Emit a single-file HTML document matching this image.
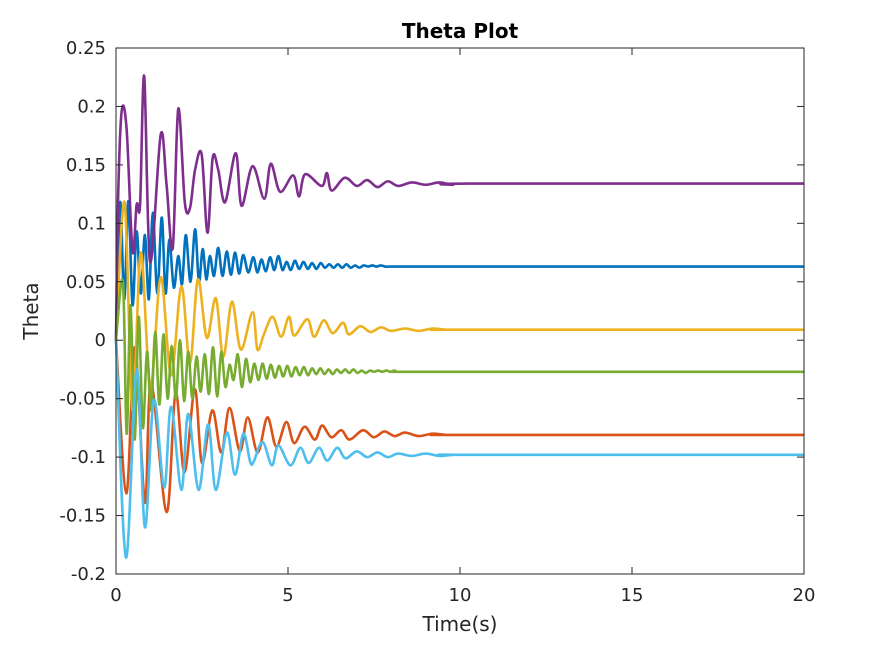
<!DOCTYPE html>
<html><head><meta charset="utf-8"><style>
html,body{margin:0;padding:0;background:#fff;}
svg text{font-family:"DejaVu Sans","Liberation Sans",sans-serif;fill:#262626;}
</style></head><body>
<svg id="chart" width="889" height="645" viewBox="0 0 889 645" xmlns="http://www.w3.org/2000/svg">
<rect x="0" y="0" width="889" height="645" fill="#fff"/>
<g id="series"></g>
<rect x="116" y="48" width="688" height="526" fill="none" stroke="#262626" stroke-width="1"/>
<g id="ticks"></g>
<text x="460" y="38" text-anchor="middle" font-size="20" font-weight="bold" style="fill:#000">Theta Plot</text>
<text x="460" y="631" text-anchor="middle" font-size="20">Time(s)</text>
<text transform="translate(38,311) rotate(-90)" text-anchor="middle" font-size="20">Theta</text>
</svg>
<script>
const xTicks=[0,5,10,15,20];
const yTicks=[-0.2,-0.15,-0.1,-0.05,0,0.05,0.1,0.15,0.2,0.25];
const yTickLabels=["-0.2","-0.15","-0.1","-0.05","0","0.05","0.1","0.15","0.2","0.25"];

// purple
const purpleT=[0,0.06,0.165,0.31,0.48,0.6,0.7,0.82,0.99,1.3,1.47,1.65,1.81,2.0,2.15,2.3,2.49,2.66,2.81,2.97,3.17,3.48,3.65,3.97,4.31,4.5,4.77,5.15,5.32,5.5,5.98,6.13,6.27,6.65,7.0,7.3,7.6,7.9,8.2,8.6,9.0,9.4,9.8,10.3,20];
const purpleV=[0,0.12,0.196,0.18,0.076,0.116,0.116,0.226,0.067,0.176,0.133,0.079,0.198,0.118,0.113,0.146,0.159,0.092,0.156,0.146,0.118,0.16,0.115,0.149,0.121,0.151,0.127,0.141,0.123,0.142,0.132,0.143,0.128,0.139,0.132,0.137,0.131,0.136,0.132,0.135,0.133,0.135,0.133,0.134,0.134];
// red
const redT=[0,0.3,0.55,0.84,1.02,1.47,1.73,1.99,2.29,2.5,2.8,3.06,3.3,3.6,3.83,4.12,4.4,4.66,4.95,5.18,5.48,5.78,5.99,6.26,6.55,6.79,7.18,7.5,7.8,8.1,8.4,8.8,9.2,9.6,10.0,20];
const redV=[0,-0.131,-0.006,-0.139,-0.036,-0.147,-0.045,-0.113,-0.042,-0.105,-0.06,-0.096,-0.058,-0.095,-0.066,-0.096,-0.066,-0.091,-0.07,-0.088,-0.074,-0.085,-0.073,-0.083,-0.077,-0.085,-0.077,-0.083,-0.078,-0.082,-0.079,-0.082,-0.08,-0.081,-0.081,-0.081];
// yellow
const yellowT=[0,0.25,0.48,0.72,1.0,1.3,1.6,1.9,2.15,2.38,2.64,2.9,3.12,3.37,3.63,3.97,4.11,4.3,4.55,4.8,5.03,5.18,5.56,5.76,6.04,6.3,6.6,6.77,7.1,7.4,7.7,8.0,8.4,8.8,9.2,9.6,10.0,20];
const yellowV=[0,0.118,-0.06,0.075,-0.04,0.054,-0.03,0.046,-0.02,0.052,0.002,0.036,-0.014,0.033,-0.008,0.024,-0.008,0.005,0.02,0.003,0.02,0.004,0.018,0.003,0.017,0.006,0.015,0.005,0.012,0.007,0.011,0.008,0.010,0.008,0.010,0.009,0.009,0.009];
// cyan
const cyanT=[0,0.29,0.6,0.84,1.1,1.4,1.6,1.9,2.1,2.4,2.68,2.9,3.22,3.46,3.7,3.9,4.0,4.26,4.53,4.72,5.07,5.36,5.6,5.9,6.14,6.43,6.67,7.0,7.3,7.6,7.9,8.2,8.6,9.0,9.4,9.8,10.2,20];
const cyanV=[0,-0.186,-0.025,-0.16,-0.051,-0.126,-0.057,-0.128,-0.063,-0.128,-0.072,-0.128,-0.079,-0.115,-0.08,-0.104,-0.104,-0.087,-0.107,-0.09,-0.107,-0.092,-0.105,-0.092,-0.103,-0.092,-0.101,-0.095,-0.1,-0.096,-0.1,-0.097,-0.099,-0.097,-0.099,-0.098,-0.098,-0.098];
// blue (peak times, peak values, following trough values)
const blueT=[0.12,0.36,0.6,0.84,1.07,1.33,1.55,1.81,2.03,2.3,2.52,2.73,2.97,3.22,3.46,3.7,3.99,4.23,4.48,4.72,4.96,5.2,5.45,5.7,5.95,6.2,6.45,6.7,6.95,7.2,7.45,7.7,7.95,8.2];
const blueHi=[0.118,0.119,0.093,0.09,0.109,0.105,0.086,0.072,0.09,0.095,0.078,0.072,0.079,0.076,0.075,0.073,0.071,0.069,0.071,0.072,0.067,0.068,0.067,0.066,0.066,0.065,0.065,0.065,0.064,0.064,0.064,0.064,0.063,0.063];
const blueLo=[0.035,0.03,0.04,0.035,0.04,0.04,0.045,0.048,0.05,0.05,0.052,0.055,0.055,0.056,0.057,0.058,0.058,0.059,0.06,0.06,0.06,0.061,0.061,0.061,0.062,0.062,0.062,0.062,0.062,0.063,0.063,0.063,0.063,0.063];
// green
const greenT=[0.2,0.42,0.66,0.9,1.14,1.38,1.62,1.86,2.1,2.34,2.58,2.82,3.06,3.3,3.54,3.78,4.02,4.26,4.5,4.74,4.98,5.22,5.46,5.7,5.94,6.18,6.42,6.66,6.9,7.14,7.38,7.62,7.86,8.1];
const greenHi=[0.05,0.03,0.02,-0.01,0.007,0.005,-0.005,0.0,-0.01,-0.014,-0.012,-0.006,-0.01,-0.021,-0.012,-0.016,-0.02,-0.02,-0.021,-0.022,-0.022,-0.023,-0.023,-0.024,-0.024,-0.025,-0.025,-0.025,-0.025,-0.026,-0.026,-0.026,-0.026,-0.026];
const greenLo=[-0.08,-0.085,-0.075,-0.06,-0.055,-0.05,-0.05,-0.052,-0.05,-0.044,-0.046,-0.048,-0.04,-0.034,-0.04,-0.036,-0.034,-0.033,-0.032,-0.031,-0.031,-0.03,-0.03,-0.029,-0.029,-0.029,-0.028,-0.028,-0.028,-0.028,-0.027,-0.027,-0.027,-0.027];

const X0=116,X1=804,Y0=574,Y1=48;
function xs(t){return X0+(t-0)/(20-0)*(X1-X0);}
function ys(v){return Y0-(v-(-0.2))/(0.25-(-0.2))*(Y0-Y1);}

function osc(T,hi,lo,endV){
  const pts=[[0,0]];
  for(let i=0;i<T.length;i++){
    pts.push([T[i],hi[i]]);
    const nt=i+1<T.length?(T[i]+T[i+1])/2:T[i]+0.12;
    pts.push([nt,lo[i]]);
  }
  pts.push([T[T.length-1]+1,endV]);pts.push([20,endV]);
  return pts;
}
function zip(T,V){return T.map((t,i)=>[t,V[i]]);}
function pathFrom(pts){
  const p=pts.map(d=>[xs(d[0]),ys(d[1])]);
  let s="M"+p[0][0].toFixed(2)+","+p[0][1].toFixed(2);
  for(let i=0;i<p.length-1;i++){
    const a=p[Math.max(0,i-1)],b=p[i],c=p[i+1],d=p[Math.min(p.length-1,i+2)];
    const c1=[b[0]+(c[0]-a[0])/6,b[1]+(c[1]-a[1])/6];
    const c2=[c[0]-(d[0]-b[0])/6,c[1]-(d[1]-b[1])/6];
    s+="C"+c1[0].toFixed(2)+","+c1[1].toFixed(2)+" "+c2[0].toFixed(2)+","+c2[1].toFixed(2)+" "+c[0].toFixed(2)+","+c[1].toFixed(2);
  }
  return s;
}
const NS="http://www.w3.org/2000/svg";
const g=document.getElementById("series");
const seriesList=[
  ["series-blue","#0072BD",osc(blueT,blueHi,blueLo,0.063)],
  ["series-red","#D95319",zip(redT,redV)],
  ["series-yellow","#EDB120",zip(yellowT,yellowV)],
  ["series-purple","#7E2F8E",zip(purpleT,purpleV)],
  ["series-green","#77AC30",osc(greenT,greenHi,greenLo,-0.027)],
  ["series-cyan","#4DBEEE",zip(cyanT,cyanV)]
];
for(const s of seriesList){
  const el=document.createElementNS(NS,"path");
  el.setAttribute("d",pathFrom(s[2]));
  el.setAttribute("fill","none");el.setAttribute("stroke",s[1]);
  el.setAttribute("stroke-width","2.6");el.setAttribute("stroke-linejoin","round");
  
  
  g.appendChild(el);
}
const tk=document.getElementById("ticks");
for(const t of xTicks){
  const x=xs(t);
  for(const [y1,y2] of [[Y0,Y0-7],[Y1,Y1+7]]){
    const l=document.createElementNS(NS,"line");
    l.setAttribute("x1",x);l.setAttribute("x2",x);l.setAttribute("y1",y1);l.setAttribute("y2",y2);
    l.setAttribute("stroke","#262626");
    
    
    tk.appendChild(l);
  }
  const tx=document.createElementNS(NS,"text");
  tx.setAttribute("x",x);tx.setAttribute("y",601);tx.setAttribute("text-anchor","middle");tx.setAttribute("font-size","18");
  tx.textContent=String(t);
  
  
  tk.appendChild(tx);
}
yTicks.forEach((v,i)=>{
  const y=ys(v);
  for(const [x1,x2] of [[X0,X0+7],[X1,X1-7]]){
    const l=document.createElementNS(NS,"line");
    l.setAttribute("x1",x1);l.setAttribute("x2",x2);l.setAttribute("y1",y);l.setAttribute("y2",y);
    l.setAttribute("stroke","#262626");
    
    
    tk.appendChild(l);
  }
  const tx=document.createElementNS(NS,"text");
  tx.setAttribute("x",106);tx.setAttribute("y",y+6);tx.setAttribute("text-anchor","end");tx.setAttribute("font-size","18");
  tx.textContent=yTickLabels[i];
  
  
  tk.appendChild(tx);
});
</script>
</body></html>
